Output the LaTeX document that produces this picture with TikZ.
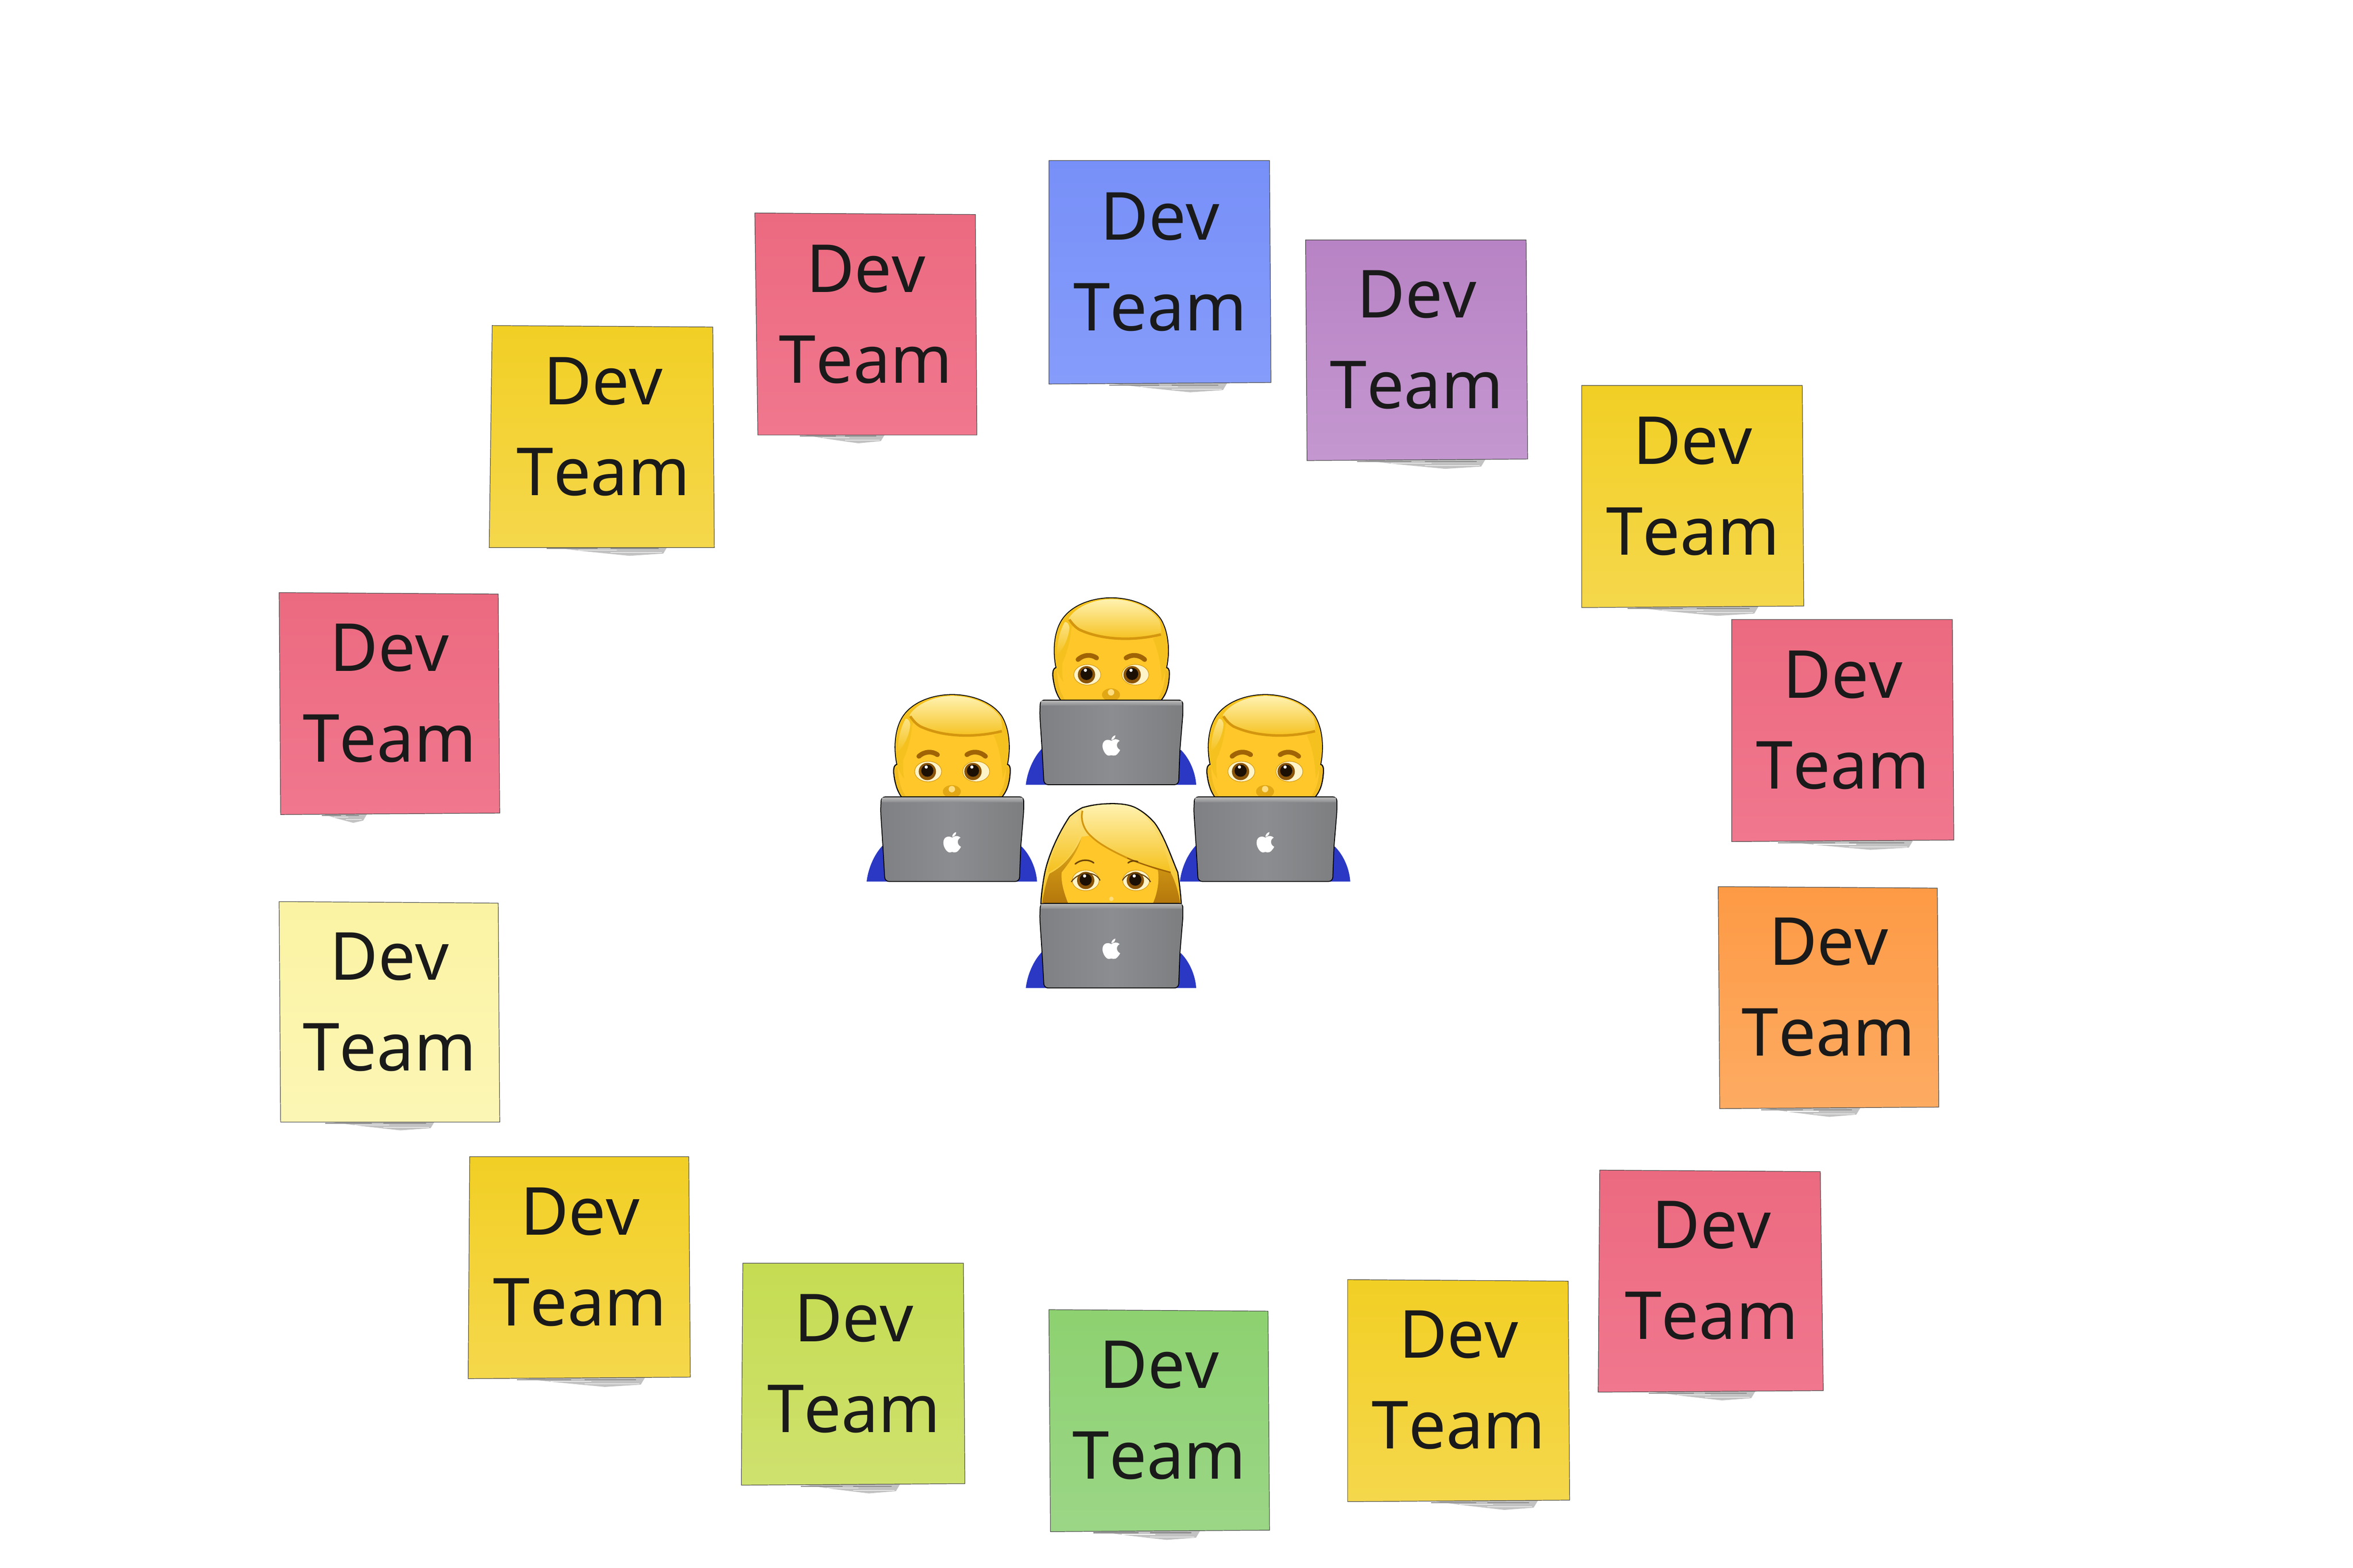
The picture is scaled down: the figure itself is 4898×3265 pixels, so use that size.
\documentclass[tikz,border=0pt]{standalone}
\usepackage{fontspec}
\setmainfont[Kerning=Off]{Noto Sans}
\definecolor{blueA}{HTML}{7790F8}\definecolor{blueB}{HTML}{869CFB}
\definecolor{redA}{HTML}{EC6A80}\definecolor{redB}{HTML}{F0778E}
\definecolor{yelA}{HTML}{F2CF24}\definecolor{yelB}{HTML}{F5D74C}
\definecolor{purA}{HTML}{B883C4}\definecolor{purB}{HTML}{C497D0}
\definecolor{oraA}{HTML}{FD9A45}\definecolor{oraB}{HTML}{FDAB62}
\definecolor{palA}{HTML}{FBF3A3}\definecolor{palB}{HTML}{FCF6B5}
\definecolor{limA}{HTML}{C5DC52}\definecolor{limB}{HTML}{CFE16E}
\definecolor{grnA}{HTML}{8DD170}\definecolor{grnB}{HTML}{9BD686}
\definecolor{inkc}{HTML}{1A1A1A}
\definecolor{facec}{HTML}{FFC72A}\definecolor{hairc}{HTML}{F5C11E}
\definecolor{hairl}{HTML}{FFF2B0}\definecolor{hairdk}{HTML}{B4770C}
\definecolor{hairrim}{HTML}{D4960F}
\definecolor{shirt}{HTML}{2A38C4}\definecolor{brow}{HTML}{A06406}
\definecolor{sclera}{HTML}{FFF3C8}\definecolor{iris}{HTML}{8A5408}\definecolor{pupil}{HTML}{1C1004}
\definecolor{lapL}{HTML}{7F8083}\definecolor{lapM}{HTML}{8C8D90}\definecolor{lapR}{HTML}{7D7E80}
\tikzset{
  notetext/.style={text=inkc,align=center,inner sep=0pt,font=\fontsize{78.5}{107.6}\selectfont},
  noteedge/.style={draw=black!70,line width=0.7pt},
  noteshade/.style={fill=black!24},
  notestreak/.style={draw=black!45,line width=1.2pt},
  laptopbody/.style={left color=lapL,right color=lapR,middle color=lapM,draw=black,line width=1pt},
  outl/.style={draw=black,line width=1.3pt},
}
\newcommand{\eyeball}[3]{% sclera x, iris x, y
  \filldraw[fill=sclera,draw=hairrim,line width=0.6pt] (#1,#3) ellipse (84 and 64);
  \fill[iris] (#2,#3) circle (54);
  \fill[pupil] (#2,#3-5) circle (38);
  \fill[white] (#2-7,#3-28) circle (10);
}
\newcommand{\computer}{%
  \shade[laptopbody,rounded corners=5pt] (-443,638) -- (447,638) -- (447,725) -- (428,955) -- (420,1167) -- (-420,1167) -- (-432,955) -- (-447,725) -- cycle;
  \shade[top color=black!28,bottom color=lapM] (-438,642) -- (440,642) -- (441,672) -- (-440,672) -- cycle;
  \fill[white] (0,893) .. controls (-20,880) and (-55,885) .. (-55,925) .. controls (-55,955) and (-30,990) .. (-12,985) .. controls (-4,982) and (4,982) .. (12,985) .. controls (30,990) and (48,965) .. (55,950) .. controls (30,938) and (28,905) .. (52,893) .. controls (35,878) and (18,880) .. (0,893) -- cycle;
  \fill[white] (0,888) .. controls (0,875) and (10,862) .. (25,858) .. controls (27,872) and (15,885) .. (0,888) -- cycle;
}
\newcommand{\shoulders}{%
  \fill[shirt] (-534,1167) .. controls (-525,1090) and (-490,1000) .. (-432,940) -- (435,950) .. controls (490,1005) and (525,1090) .. (530,1167) -- cycle;
}
\newcommand{\devman}[2]{%
  \begin{scope}[shift={(#1,#2)},scale=1/3]
    \shoulders
    \filldraw[fill=facec,outl] (-345,435) .. controls (-365,340) and (-360,220) .. (-310,140) .. controls (-250,45) and (-120,0) .. (0,0) .. controls (120,0) and (250,45) .. (310,135) .. controls (360,220) and (365,340) .. (345,435) .. controls (362,438) and (364,460) .. (362,490) .. controls (358,550) and (345,600) .. (310,640) -- (-315,640) .. controls (-345,600) and (-358,550) .. (-365,490) .. controls (-367,460) and (-362,438) .. (-345,435) -- cycle;
    \fill[hairc] (-343,433) .. controls (-363,340) and (-358,220) .. (-308,141) .. controls (-248,47) and (-120,2) .. (0,2) .. controls (120,2) and (248,47) .. (308,136) .. controls (358,220) and (363,340) .. (343,433) .. controls (335,470) and (325,500) .. (315,525) .. controls (312,450) and (300,340) .. (260,255) -- (310,230) .. controls (150,270) and (-50,270) .. (-200,200) .. controls (-225,185) and (-245,160) .. (-250,195) .. controls (-255,260) and (-275,340) .. (-305,405) .. controls (-310,450) and (-305,490) .. (-300,525) .. controls (-320,500) and (-335,470) .. (-343,433) -- cycle;
    \shade[top color=hairl,bottom color=hairc] (-265,125) .. controls (-215,50) and (-100,8) .. (0,8) .. controls (120,8) and (240,55) .. (300,140) .. controls (310,170) and (315,205) .. (310,222) .. controls (150,262) and (-50,262) .. (-200,190) .. controls (-240,170) and (-265,150) .. (-265,125) -- cycle;
    \draw[hairrim,line width=3pt] (-262,135) .. controls (-235,175) and (-215,188) .. (-200,198) .. controls (-50,268) and (150,268) .. (310,228);
    \shade[top color=hairl!70!hairc,bottom color=hairc] (-290,150) .. controls (-320,200) and (-340,280) .. (-340,360) .. controls (-310,330) and (-270,270) .. (-262,190) .. controls (-262,165) and (-275,150) .. (-290,150) -- cycle;
    \fill[hairc!92!brown] (-360,460) .. controls (-362,520) and (-345,590) .. (-315,635) -- (-290,635) .. controls (-320,590) and (-335,540) .. (-340,450) -- cycle;
    \fill[hairc!92!brown] (358,460) .. controls (360,520) and (342,590) .. (310,635) -- (288,635) .. controls (318,590) and (335,540) .. (338,450) -- cycle;
    \draw[brow,line width=5.6pt,line cap=round] (-208,385) .. controls (-170,352) and (-125,352) .. (-92,375);
    \draw[brow,line width=5.6pt,line cap=round] (92,375) .. controls (125,352) and (170,352) .. (208,385);
    \eyeball{-150}{-155}{480}
    \eyeball{150}{130}{480}
    \fill[hairrim!60!hairc] (-2,605) ellipse (56 and 40);
    \fill[facec!60!white] (-2,590) ellipse (20 and 20);
    \computer
  \end{scope}}
\newcommand{\devwoman}[2]{%
  \begin{scope}[shift={(#1,#2)},scale=1/3]
    \shoulders
    \shade[top color=hairl!70!hairc,bottom color=hairc,outl] (-440,640) .. controls (-435,540) and (-415,445) .. (-415,445) .. controls (-395,350) and (-340,215) .. (-260,95) .. controls (-225,65) and (-200,50) .. (-180,40) .. controls (-110,20) and (-50,15) .. (10,15) .. controls (70,15) and (120,25) .. (150,40) .. controls (220,75) and (260,125) .. (270,135) .. controls (330,215) and (375,350) .. (415,445) .. controls (425,510) and (433,580) .. (437,640) -- cycle;
    \shade[top color=hairc!70!hairdk,bottom color=hairdk] (-432,637) .. controls (-420,560) and (-400,480) .. (-385,452) .. controls (-320,420) and (-240,350) .. (-185,225) -- (-130,215) .. controls (-90,255) and (-30,295) .. (100,355) .. controls (190,395) and (290,425) .. (370,445) .. controls (400,500) and (420,570) .. (430,637) -- cycle;
    \fill[facec] (-185,222) -- (-130,215) .. controls (-90,255) and (-30,295) .. (100,355) .. controls (170,385) and (230,410) .. (290,430) .. controls (300,470) and (295,560) .. (260,637) -- (-270,637) .. controls (-300,560) and (-315,500) .. (-310,445) .. controls (-260,380) and (-205,310) .. (-185,222) -- cycle;
    \shade[top color=hairl,bottom color=hairc] (-180,48) .. controls (-110,25) and (-50,20) .. (10,20) .. controls (70,20) and (120,30) .. (150,45) .. controls (220,80) and (320,210) .. (370,440) .. controls (280,420) and (190,390) .. (100,350) .. controls (-30,290) and (-90,250) .. (-130,212) .. controls (-170,180) and (-195,115) .. (-180,48) -- cycle;
    \draw[hairrim,line width=2pt] (-180,60) .. controls (-195,115) and (-170,180) .. (-130,215) .. controls (-90,255) and (-30,295) .. (100,355);
    \draw[brow,line width=1.6pt] (100,355) .. controls (190,395) and (280,420) .. (370,445);
    \shade[top color=hairl!70!hairc,bottom color=hairc] (-215,85) .. controls (-270,125) and (-330,215) .. (-375,360) .. controls (-385,395) and (-395,425) .. (-395,445) .. controls (-320,410) and (-250,350) .. (-205,240) .. controls (-190,190) and (-200,120) .. (-215,85) -- cycle;
    \draw[brow!70!black,line width=1.8pt,line cap=round] (-225,392) .. controls (-190,362) and (-140,362) .. (-110,385);
    \draw[brow!70!black,line width=1.8pt,line cap=round] (105,385) .. controls (120,372) and (140,370) .. (165,378);
    \eyeball{-160}{-160}{495}
    \eyeball{155}{150}{495}
    \draw[brow!60!black,line width=1.2pt] (-250,505) .. controls (-215,445) and (-105,425) .. (-70,495);
    \draw[brow!60!black,line width=1.2pt] (70,495) .. controls (105,425) and (215,445) .. (245,505);
    \fill[facec!60!white] (0,610) circle (14);
    \computer
  \end{scope}}
\begin{document}
\begin{tikzpicture}[x=0.02cm,y=-0.02cm]
\useasboundingbox (0,0) rectangle (4898,3265);
\fill[white] (0,0) rectangle (4898,3265);
\begin{scope}[scale=3.1237]
\foreach \n/\ax/\ay/\bx/\by/\cx/\cy/\dx/\dy/\tc/\bc/\sa/\sb in {
  blue/699/107/846/107/847/255/699/256/blueA/blueB/735/818,
  redb/503/142/650/143/651/290/505/290/redA/redB/530/590,
  yelc/328/217/475/218/476/365/326/365/yelA/yelB/360/445,
  redd/186/395/332/396/333/542/187/543/redA/redB/213/245,
  pale/186/601/332/602/333/748/187/748/palA/palB/213/290,
  yelf/313/771/459/771/460/918/312/919/yelA/yelB/340/430,
  lime/495/842/642/842/643/989/494/990/limA/limB/530/600,
  gren/699/873/845/874/846/1020/700/1021/grnA/grnB/725/800,
  yeli/898/853/1045/854/1046/1000/898/1001/yelA/yelB/950/1025,
  redj/1066/780/1213/781/1215/927/1065/928/redA/redB/1095/1170,
  oran/1145/591/1291/592/1292/738/1146/739/oraA/oraB/1170/1240,
  redl/1154/413/1301/413/1302/560/1154/561/redA/redB/1180/1275,
  yelm/1054/257/1201/257/1202/404/1054/405/yelA/yelB/1080/1172,
  purp/870/160/1017/160/1018/306/871/307/purA/purB/900/990}{
  \fill[noteshade] (\sa,{max(\cy,\dy)-1}) -- (\sb,{max(\cy,\dy)-1}) -- (\sb-3,{max(\cy,\dy)+4}) -- ({\sb-0.3*(\sb-\sa)},{max(\cy,\dy)+5.5}) -- ({\sa+0.35*(\sb-\sa)},{max(\cy,\dy)+2.5}) -- cycle;
  \draw[notestreak] ({\sa+0.05*(\sb-\sa)},{max(\cy,\dy)+0.7}) -- ({\sa+0.45*(\sb-\sa)},{max(\cy,\dy)+0.7});
  \draw[notestreak] ({\sa+0.55*(\sb-\sa)},{max(\cy,\dy)+0.7}) -- ({\sb-6},{max(\cy,\dy)+0.7});
  \draw[white,line width=0.7pt] ({\sa+0.3*(\sb-\sa)},{max(\cy,\dy)+1.8}) -- ({\sa+0.6*(\sb-\sa)},{max(\cy,\dy)+1.8});
  \draw[white,line width=0.5pt] ({\sa+0.55*(\sb-\sa)},{max(\cy,\dy)+3.4}) -- ({\sb-4},{max(\cy,\dy)+3.4});
  \shade[noteedge,top color=\tc,bottom color=\bc] (\ax,\ay) -- (\bx,\by) -- (\cx,\cy) -- (\dx,\dy) -- cycle;
  \node[notetext] (\n) at ({(\ax+\cx)/2},{(\ay+\cy)/2-6.5}) {Dev\\Team};
}
\end{scope}
\devman{2313.3}{1245}
\devman{1982}{1446.5}
\devman{2634}{1446.5}
\devwoman{2313.3}{1668.3}
\end{tikzpicture}
\end{document}
